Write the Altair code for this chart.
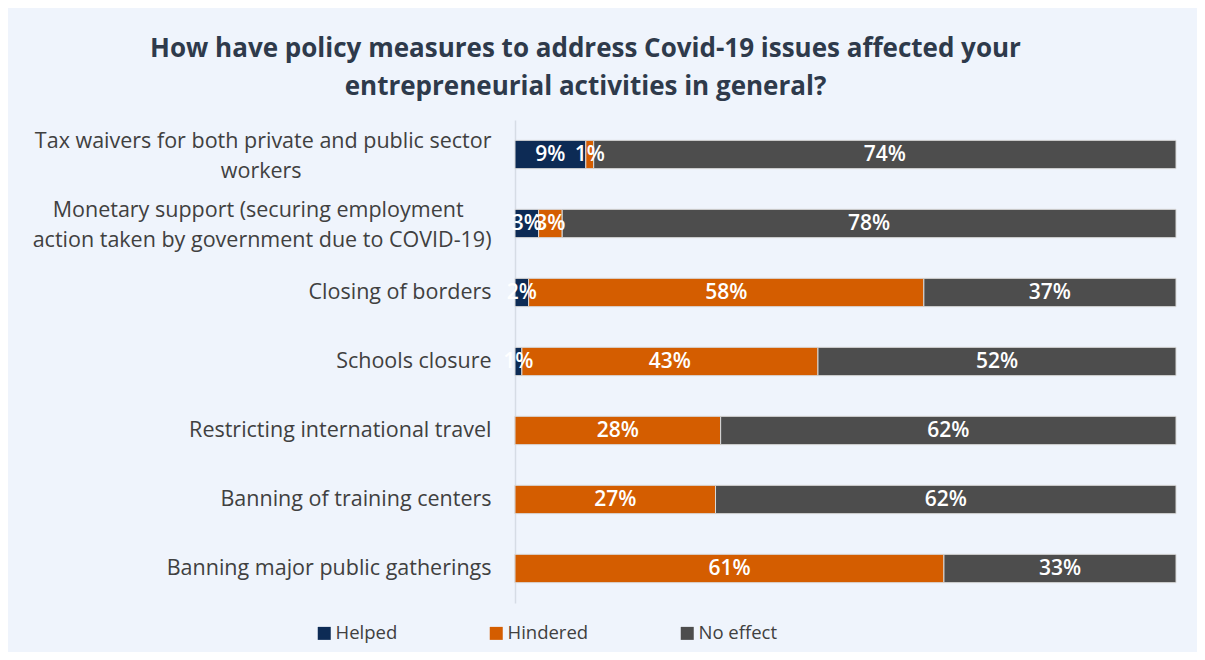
import altair as alt
import pandas as pd

measures = [
    "Tax waivers for both private and public sector workers",
    "Monetary support (securing employment action taken by government due to COVID-19)",
    "Closing of borders",
    "Schools closure",
    "Restricting international travel",
    "Banning of training centers",
    "Banning major public gatherings",
]
label_lines = [
    ["Tax waivers for both private and public sector", "workers"],
    ["Monetary support (securing employment", "action taken by government due to COVID-19)"],
    ["Closing of borders"],
    ["Schools closure"],
    ["Restricting international travel"],
    ["Banning of training centers"],
    ["Banning major public gatherings"],
]
# non-breaking-space padding so that the shorter line of a wrapped label is centred
line_pad = [[0, 34], [5, 0], [0], [0], [0], [0], [0]]

series = ["Helped", "Hindered", "No effect"]
helped = [9, 3, 2, 1, 0, 0, 0]
hindered = [1, 3, 58, 43, 28, 27, 61]
no_effect = [74, 78, 37, 52, 62, 62, 33]
colors = ["#0D2B55", "#D45D00", "#4D4D4D"]

NBSP = "\u00a0"
ZWSP = "\u200b"
labels = []
for lines, pads in zip(label_lines, line_pad):
    labels.append("|".join(l + (NBSP * p + ZWSP if p else "") for l, p in zip(lines, pads)))

rows = []
for i, m in enumerate(measures):
    for j, (s, vals) in enumerate(zip(series, [helped, hindered, no_effect])):
        rows.append({"measure": m, "label": labels[i], "series": s, "order": j, "value": vals[i]})
df = pd.DataFrame(rows)

FONT = "Open Sans"
BG = "#EFF4FC"

base = (
    alt.Chart(df)
    .transform_joinaggregate(total="sum(value)", groupby=["measure"])
    .transform_calculate(pct="datum.value / datum.total")
    .transform_stack(stack="pct", as_=["x0", "x1"], groupby=["measure"], sort=[alt.SortField("order")])
    .transform_calculate(mid="(datum.x0 + datum.x1) / 2")
)

y_enc = alt.Y(
    "label:N",
    sort=labels,
    title=None,
    scale=alt.Scale(paddingInner=0.59, paddingOuter=0.295),
    axis=alt.Axis(
        ticks=False,
        domainColor="#D6DCE5",
        domainWidth=1.5,
        labelFont=FONT,
        labelFontSize=21.5,
        labelColor="#404040",
        labelPadding=24,
        labelLimit=800,
        labelLineHeight=30,
        labelAlign="right",
        labelBaseline="middle",
        labelExpr="split(datum.label, '|')",
        labelOffset={"condition": {"test": "indexof(datum.value, '|') >= 0", "value": -13}, "value": 0},
    ),
)

bars = base.mark_bar(stroke="#D9D9D9", strokeWidth=1).encode(
    x=alt.X("x0:Q", scale=alt.Scale(domain=[0, 1]), axis=None),
    x2="x1:Q",
    y=y_enc,
    color=alt.Color(
        "series:N",
        sort=series,
        scale=alt.Scale(domain=series, range=colors),
        legend=alt.Legend(
            title=None,
            orient="none",
            direction="horizontal",
            legendX=-200,
            legendY=504,
            symbolType="square",
            symbolSize=169,
            symbolStrokeWidth=0,
            labelFont=FONT,
            labelFontSize=18.5,
            labelColor="#404040",
            columnPadding=89,
            labelOffset=2,
        ),
    ),
)

texts = base.transform_filter("datum.value > 0").transform_calculate(
    label_txt="format(datum.value, 'd') + '%'"
).mark_text(
    font=FONT, fontSize=21, fontWeight=600, color="white", align="center", baseline="middle"
).encode(
    x="mid:Q",
    y=alt.Y("label:N", sort=labels),
    text=alt.Text("label_txt:N"),
)

chart = (
    alt.layer(bars, texts)
    .properties(
        width=661,
        height=483,
        background=BG,
        padding={"left": 507, "top": 112, "right": 21, "bottom": 49},
        autosize=alt.AutoSizeParams(type="none"),
        title=alt.TitleParams(
            text=["How have policy measures to address Covid-19 issues affected your",
                  "entrepreneurial activities in general?"],
            font=FONT,
            fontSize=26,
            fontWeight="bold",
            color="#2E3A4B",
            anchor="middle",
            frame="group",
            dx=-260,
            offset=20,
            lineHeight=38,
        ),
    )
    .configure_view(stroke=None)
)

chart.save("out.html", embed_options={"renderer": "svg", "actions": False})
